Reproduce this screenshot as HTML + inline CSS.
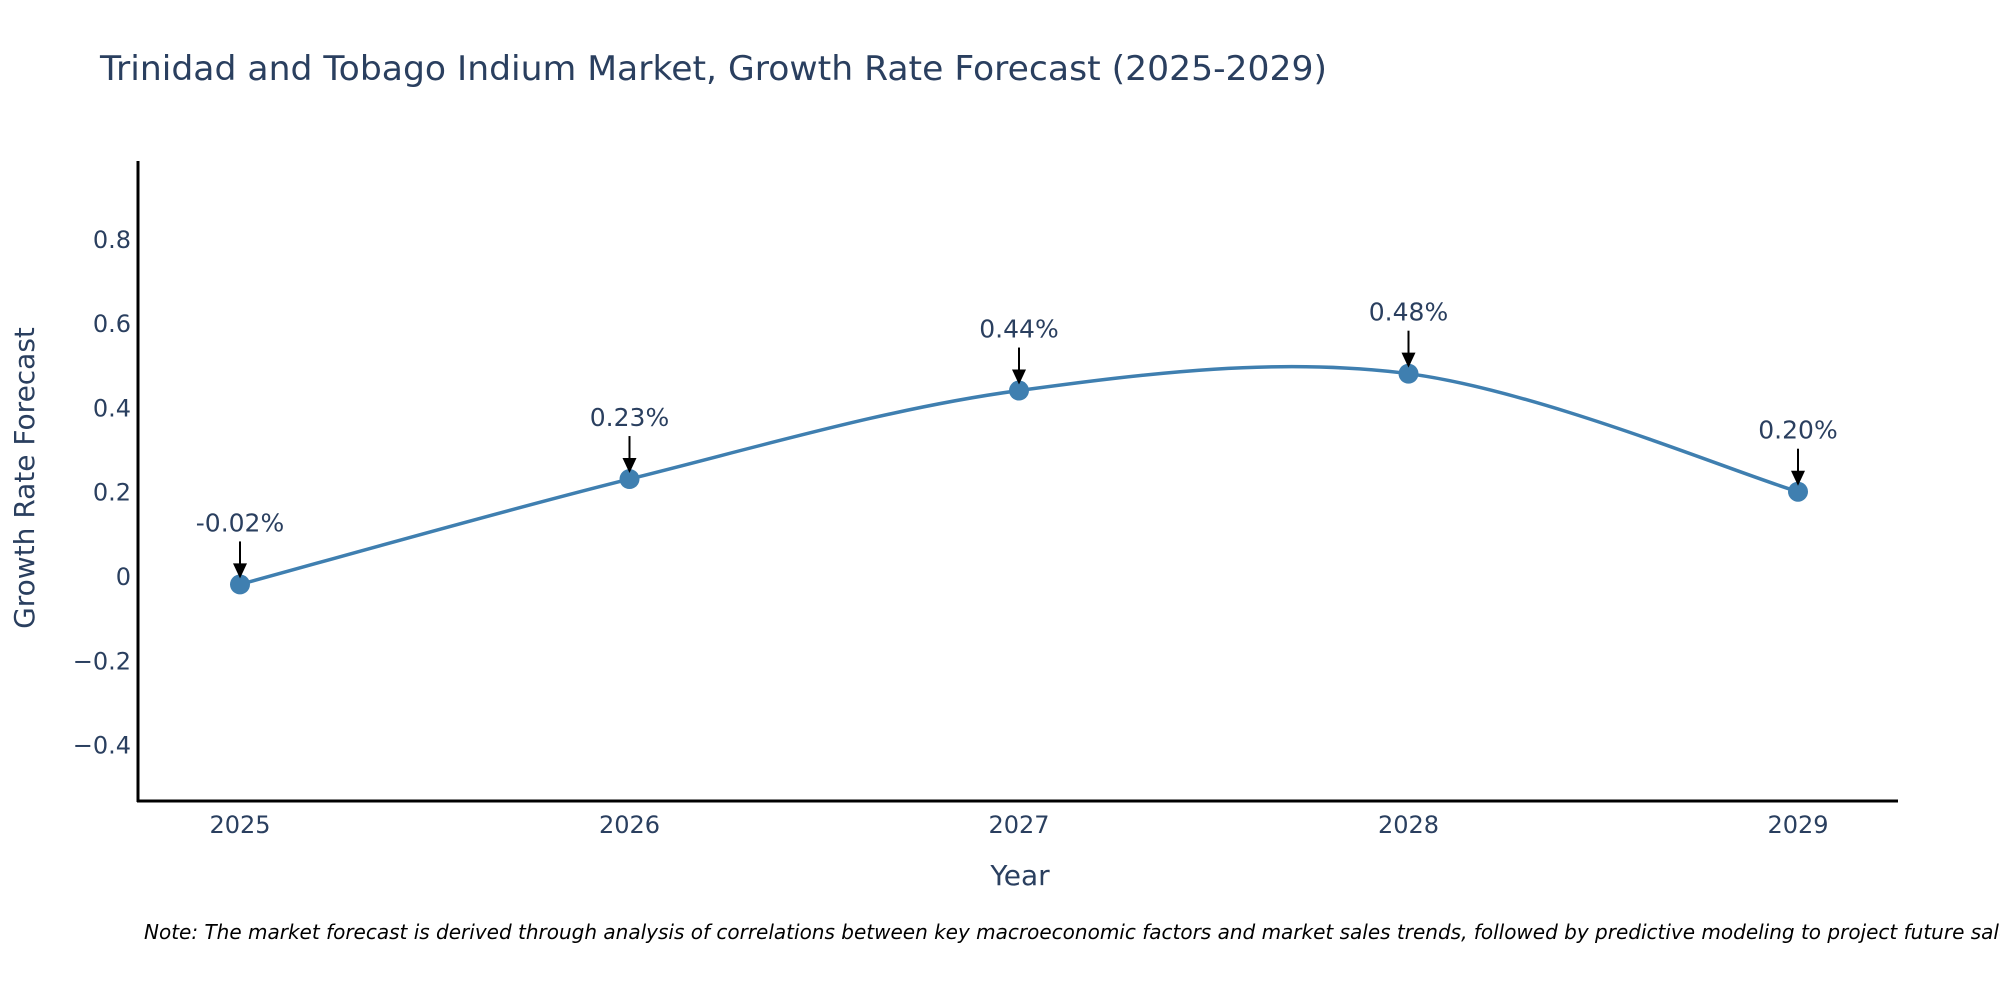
<!DOCTYPE html>
<html>
<head>
<meta charset="utf-8">
<style>
html,body{margin:0;padding:0;background:#fff;}
svg{display:block;}
text{font-family:"DejaVu Sans","Liberation Sans",sans-serif;fill:#2a3f5f;}
</style>
</head>
<body>
<svg id="chart" width="2000" height="1000" viewBox="0 0 2000 1000" xmlns="http://www.w3.org/2000/svg">
  <text x="100" y="80" font-size="34" textLength="1227" lengthAdjust="spacingAndGlyphs">Trinidad and Tobago Indium Market, Growth Rate Forecast (2025-2029)</text>
  <g id="yticks"></g>
  <g id="xticks"></g>
  <line x1="138" y1="161" x2="138" y2="802" stroke="#000" stroke-width="3"/>
  <line x1="137" y1="801" x2="1898" y2="801" stroke="#000" stroke-width="3"/>
  <text x="0" y="0" font-size="28" text-anchor="middle" transform="translate(34,478) rotate(-90)">Growth Rate Forecast</text>
  <text x="1020" y="885" font-size="28" text-anchor="middle">Year</text>
  <g id="series"></g>
  <g id="annots"></g>
  <text x="144" y="939" font-size="20" font-style="italic" style="fill:#000">Note: The market forecast is derived through analysis of correlations between key macroeconomic factors and market sales trends, followed by predictive modeling to project future sales.</text>
</svg>
<script>
const years = [2025, 2026, 2027, 2028, 2029];
const growth = [-0.02, 0.23, 0.44, 0.48, 0.20];
const labels = ["-0.02%", "0.23%", "0.44%", "0.48%", "0.20%"];
const yTickVals = [-0.4, -0.2, 0, 0.2, 0.4, 0.6, 0.8];
const yTickText = ["\u22120.4", "\u22120.2", "0", "0.2", "0.4", "0.6", "0.8"];

const NS = "http://www.w3.org/2000/svg";
const X0 = 240, XSTEP = 389.5;
function xScale(v){ return X0 + (v - years[0]) * XSTEP; }
const Y0 = 576, YPER = 421.5;
function yScale(v){ return Y0 - v * YPER; }

const yt = document.getElementById('yticks');
yTickVals.forEach((v,i)=>{
  const t = document.createElementNS(NS,'text');
  
  
  t.setAttribute('x', 131);
  t.setAttribute('y', yScale(v) + 9);
  t.setAttribute('font-size', 24);
  t.setAttribute('text-anchor', 'end');
  t.textContent = yTickText[i];
  yt.appendChild(t);
});
const xt = document.getElementById('xticks');
years.forEach(v=>{
  const t = document.createElementNS(NS,'text');
  
  
  t.setAttribute('x', xScale(v));
  t.setAttribute('y', 833);
  t.setAttribute('font-size', 24);
  t.setAttribute('text-anchor', 'middle');
  t.textContent = String(v);
  xt.appendChild(t);
});

const pts = years.map((y,i)=>[xScale(y), yScale(growth[i])]);
let d = `M${pts[0][0]},${pts[0][1]}`;
const k = 0.5;
for(let i=0;i<pts.length-1;i++){
  const p0 = pts[Math.max(i-1,0)], p1 = pts[i], p2 = pts[i+1], p3 = pts[Math.min(i+2,pts.length-1)];
  const c1 = [p1[0] + (p2[0]-p0[0])*k/3, p1[1] + (p2[1]-p0[1])*k/3];
  const c2 = [p2[0] - (p3[0]-p1[0])*k/3, p2[1] - (p3[1]-p1[1])*k/3];
  d += ` C${c1[0]},${c1[1]} ${c2[0]},${c2[1]} ${p2[0]},${p2[1]}`;
}
const series = document.getElementById('series');
const path = document.createElementNS(NS,'path');


path.setAttribute('d', d);
path.setAttribute('fill', 'none');
path.setAttribute('stroke', '#3f7fb0');
path.setAttribute('stroke-width', 3.5);
series.appendChild(path);
pts.forEach(p=>{
  const c = document.createElementNS(NS,'circle');
  
  
  c.setAttribute('cx', p[0]);
  c.setAttribute('cy', p[1]);
  c.setAttribute('r', 10);
  c.setAttribute('fill', '#3f7fb0');
  series.appendChild(c);
});

const an = document.getElementById('annots');
pts.forEach((p,i)=>{
  const tipY = p[1] - 6, tailY = p[1] - 43;
  const ln = document.createElementNS(NS,'line');
  
  
  ln.setAttribute('x1', p[0]); ln.setAttribute('y1', tailY);
  ln.setAttribute('x2', p[0]); ln.setAttribute('y2', tipY - 12);
  ln.setAttribute('stroke', '#000'); ln.setAttribute('stroke-width', 2);
  an.appendChild(ln);
  const hd = document.createElementNS(NS,'path');
  
  
  hd.setAttribute('d', `M${p[0]-7},${tipY-15} L${p[0]+7},${tipY-15} L${p[0]},${tipY} Z`);
  hd.setAttribute('fill', '#000');
  an.appendChild(hd);
  const t = document.createElementNS(NS,'text');
  
  
  t.setAttribute('x', p[0]);
  t.setAttribute('y', tailY - 10);
  t.setAttribute('font-size', 25);
  t.setAttribute('text-anchor', 'middle');
  t.textContent = labels[i];
  an.appendChild(t);
});
</script>
</body>
</html>
